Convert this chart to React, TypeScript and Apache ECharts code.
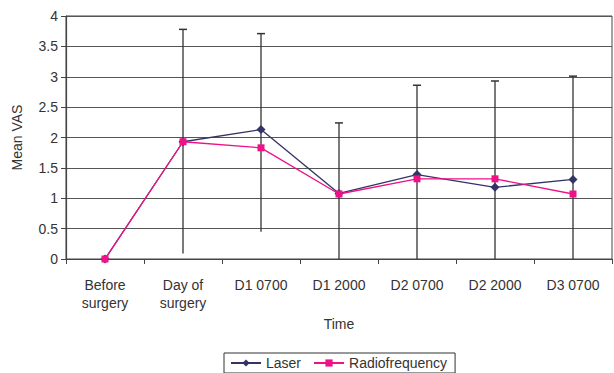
import React, { useEffect, useRef } from "react";
import * as echarts from "echarts";

const categories = ["Before\nsurgery", "Day of\nsurgery", "D1 0700", "D1 2000", "D2 0700", "D2 2000", "D3 0700"];
const laser = [0, 1.93, 2.13, 1.08, 1.39, 1.18, 1.31];
const radiofrequency = [0, 1.93, 1.83, 1.07, 1.32, 1.32, 1.07];
const errLow = [null, 0.09, 0.45, 0, 0, 0, 0];
const errHigh = [null, 3.78, 3.71, 2.24, 2.86, 2.93, 3.01];
const yTicks = [0, 0.5, 1, 1.5, 2, 2.5, 3, 3.5, 4];

export default function App() {
  const ref = useRef<HTMLDivElement>(null);
  useEffect(() => {
    if (!ref.current) return;
    const chart = echarts.init(ref.current, undefined, { renderer: "svg" });
    const errData = categories
      .map((_, i) => [i, errLow[i], errHigh[i]])
      .filter((d) => d[1] !== null);
    chart.setOption({
      animation: false,
      textStyle: { fontFamily: "Liberation Sans, Arial, sans-serif" },
      grid: { left: 66, right: 2, top: 16, bottom: 114, show: true, borderColor: "#444", borderWidth: 1 },
      xAxis: {
        type: "category",
        data: categories,
        boundaryGap: true,
        name: "Time",
        nameLocation: "middle",
        nameGap: 58,
        nameTextStyle: { color: "#333", fontSize: 14 },
        axisLine: { lineStyle: { color: "#444", width: 1.2 } },
        axisTick: { show: true, length: 5, lineStyle: { color: "#444" } },
        axisLabel: { color: "#333", fontSize: 14, margin: 17, lineHeight: 18, interval: 0 },
      },
      yAxis: {
        type: "value",
        min: 0,
        max: 4,
        interval: 0.5,
        name: "Mean VAS",
        nameLocation: "middle",
        nameGap: 42,
        nameTextStyle: { color: "#333", fontSize: 14 },
        axisLine: { show: true, lineStyle: { color: "#444", width: 1.2 } },
        axisTick: { show: true, length: 5, lineStyle: { color: "#444" } },
        axisLabel: { color: "#333", fontSize: 14, margin: 8, formatter: (v: number) => (yTicks.includes(v) ? String(v) : "") },
        splitLine: { lineStyle: { color: "#555", width: 1 } },
      },
      legend: {
        bottom: 0,
        left: 224,
        itemGap: 12,
        padding: [3, 8, 3, 6],
        borderColor: "#333",
        borderWidth: 1,
        itemWidth: 30,
        itemHeight: 9,
        textStyle: { color: "#333", fontSize: 14 },
        data: ["Laser", "Radiofrequency"],
      },
      series: [
        {
          type: "custom",
          name: "err",
          z: 1,
          silent: true,
          data: errData,
          renderItem: (params: any, api: any) => {
            const x = api.value(0);
            const lo = api.coord([x, api.value(1)]);
            const hi = api.coord([x, api.value(2)]);
            return {
              type: "group",
              children: [
                { type: "line", shape: { x1: hi[0], y1: hi[1], x2: lo[0], y2: lo[1] }, style: { stroke: "#333", lineWidth: 1.3 } },
                { type: "line", shape: { x1: hi[0] - 4, y1: hi[1], x2: hi[0] + 4, y2: hi[1] }, style: { stroke: "#333", lineWidth: 1.5 } },
              ],
            };
          },
        },
        {
          type: "line",
          name: "Laser",
          z: 3,
          data: laser,
          symbol: "diamond",
          symbolSize: 9,
          color: "#333366",
          lineStyle: { color: "#333366", width: 1.3 },
          itemStyle: { color: "#333366" },
        },
        {
          type: "line",
          name: "Radiofrequency",
          z: 4,
          data: radiofrequency,
          symbol: "rect",
          symbolSize: 7,
          color: "#ee1188",
          lineStyle: { color: "#ee1188", width: 1.3 },
          itemStyle: { color: "#ee1188" },
        },
      ],
    });
    return () => chart.dispose();
  }, []);
  return <div ref={ref} style={{ width: 614, height: 373, position: "absolute", left: 0, top: 0 }} />;
}
